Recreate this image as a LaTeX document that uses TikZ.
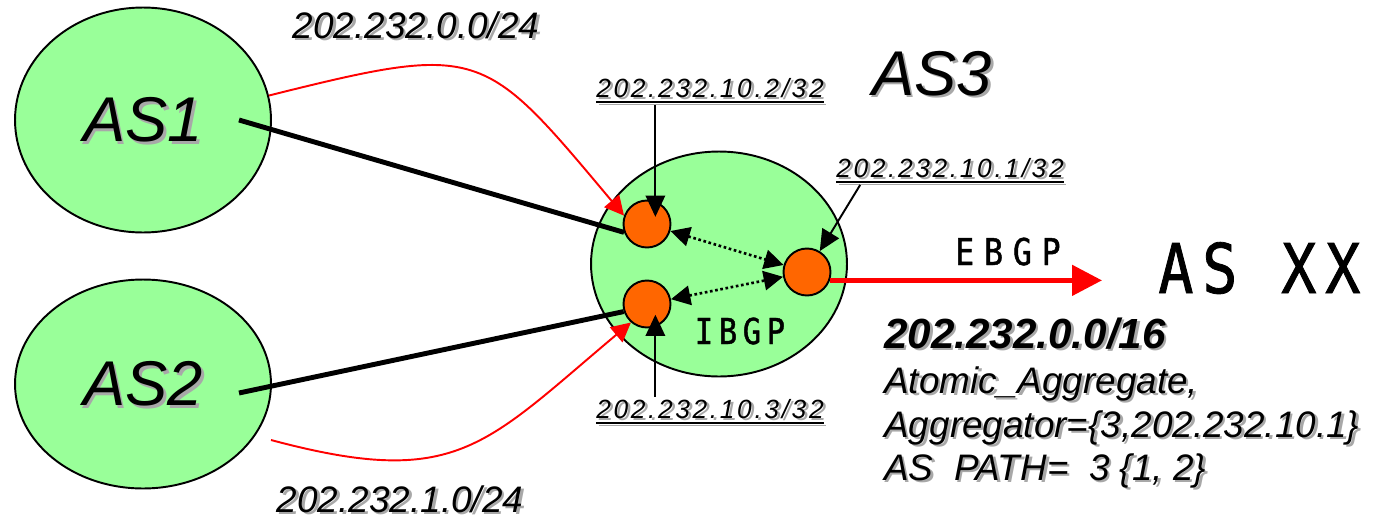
\documentclass[tikz,border=0pt]{standalone}
\usepackage{fontspec}
\setmainfont{Liberation Sans}
\newfontfamily\ipfamily[LetterSpace=10]{Liberation Sans}
\newfontfamily\gothic[FakeStretch=0.85, FakeBold=1.2]{DejaVu Sans Mono}
\usetikzlibrary{arrows.meta, shapes.geometric}

\definecolor{asgreen}{HTML}{99FF99}
\definecolor{routerorange}{HTML}{FF6600}
\definecolor{shadowgray}{HTML}{A8A8A8}

% grey drop shadow behind a piece of text
\newcommand{\shadowed}[1]{\leavevmode\rlap{\kern1.5pt\smash{\lower1.5pt\hbox{\color{shadowgray}#1}}}#1}
% thick underline for router addresses
\newcommand{\ipline}[1]{\setbox0\hbox{#1}\rlap{\rule[-3.3pt]{\wd0}{1.1pt}}\box0}

\begin{document}
\begin{tikzpicture}[x=0.02cm, y=0.02cm]
    \tikzstyle{asnode} = [ellipse, draw, line width=1.1pt, fill=asgreen, inner sep=0pt, font=\fontsize{36}{40}\selectfont\itshape]
    \tikzstyle{router} = [circle, draw, line width=1.1pt, fill=routerorange, minimum size=0.94cm, inner sep=0pt]
    \tikzstyle{aslink} = [line width=2.8pt]
    \tikzstyle{announce} = [red, line width=1.1pt, -{Triangle[length=11pt,width=11pt]}]
    \tikzstyle{ibgplink} = [line width=1.5pt, dash pattern=on 1.5pt off 1.5pt, {Triangle[length=11pt,width=11pt]}-{Triangle[length=11pt,width=11pt]}]
    \tikzstyle{pointer} = [line width=1.1pt, -{Triangle[length=12pt,width=11pt]}]
    \tikzstyle{netlabel} = [inner sep=1pt, anchor=base, font=\fontsize{21}{24}\selectfont\itshape]
    \tikzstyle{ipaddr} = [inner sep=1pt, anchor=base, font=\ipfamily\itshape\fontsize{15}{17}\selectfont]
    \tikzstyle{attrline} = [inner sep=0pt, anchor=base west, font=\fontsize{21}{24}\selectfont\itshape]
    \tikzstyle{session} = [inner sep=0pt, anchor=base]

    \useasboundingbox (0,0) rectangle (1376,-521);

    % autonomous systems and routers
    \node [asnode, minimum width=5.12cm, minimum height=4.5cm] (as1) at (143,-120) {\shadowed{AS1}};
    \node [asnode, minimum width=5.12cm, minimum height=4.18cm] (as2) at (143,-384) {\shadowed{AS2}};
    \node [asnode, minimum width=5.12cm, minimum height=4.5cm] (as3) at (719,-264) {};
    \node [router] (r1) at (647,-224) {};
    \node [router] (r2) at (647,-304) {};
    \node [router] (r3) at (807,-272) {};

    % labels
    \node [anchor=base, font=\fontsize{36}{40}\selectfont\itshape] (as3name) at (932,-95) {\shadowed{AS3}};
    \node [netlabel] (net0) at (416,-38) {\shadowed{202.232.0.0/24}};
    \node [netlabel] (net1) at (400,-512) {\shadowed{202.232.1.0/24}};
    \node [ipaddr] (ip2) at (710,-97) {\shadowed{\ipline{202.232.10.2/32}}};
    \node [ipaddr] (ip3) at (710,-418) {\shadowed{\ipline{202.232.10.3/32}}};
    \node [ipaddr] (ip1) at (950,-177) {\shadowed{\ipline{202.232.10.1/32}}};
    \node [session, font=\gothic\fontsize{21}{24}\selectfont\addfontfeature{LetterSpace=27}] (ebgp) at (1008,-265) {EBGP};
    \node [session, font=\gothic\fontsize{20.3}{24}\selectfont\addfontfeature{LetterSpace=16}] (ibgp) at (740,-344) {IBGP};
    \node [session, anchor=base west, font=\gothic\fontsize{39}{44}\selectfont\addfontfeature{LetterSpace=13}] (asxx) at (1158,-293) {AS XX};

    \node [attrline, font=\fontsize{24}{28}\selectfont\bfseries\itshape] (aggr) at (884,-348) {\shadowed{202.232.0.0/16}};
    \node [attrline] (atomic) at (884,-393) {\shadowed{Atomic\_Aggregate,}};
    \node [attrline] (aggregator) at (884,-437) {\shadowed{Aggregator=\{3,202.232.10.1\}}};
    \node [attrline] (aspath) at (884,-480) {\shadowed{AS\ \ PATH=\ \ 3 \{1, 2\}}};

    % connections
    \coordinate (as1port) at (239,-120);
    \coordinate (as2port) at (239,-393);
    \coordinate (as2out) at (271,-440);
    \coordinate (ebgpend) at (1102,-280);
    \draw[aslink] (as1port) -- (r1.200);
    \draw[aslink] (as2port) -- (r2.198);
    \draw[announce] (as1.11) to[out=14, in=130, looseness=1.5] (r1.160);
    \draw[announce] (as2out) to[out=-15, in=220, looseness=1.3] (r2.229);
    \draw[ibgplink] (r1) -- (r3);
    \draw[ibgplink] (r2) -- (r3);
    \draw[pointer, shorten >=-9pt] (ip2.south -| r1.70) -- (r1.70);
    \draw[pointer, shorten >=-7pt] (ip3.north -| r2.-70) -- (r2.-70);
    \draw[pointer] ([xshift=0.52cm]ip1.south west) -- (r3);
    \draw[red, line width=2.8pt, -{Triangle[length=17pt,width=17pt]}] (r3.-20) -- (r3.-20 -| ebgpend);
\end{tikzpicture}
\end{document}
